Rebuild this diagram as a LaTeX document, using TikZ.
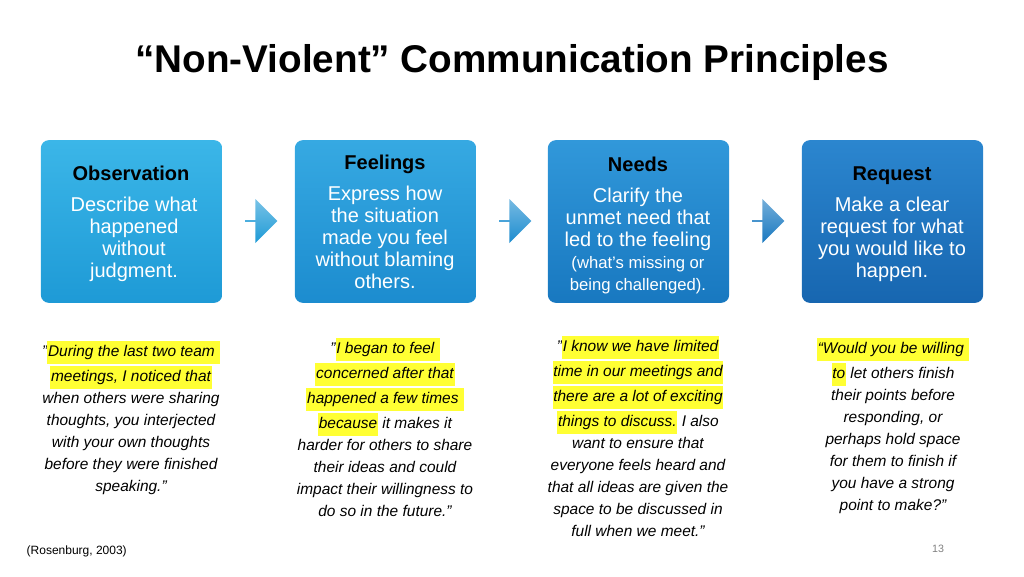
\documentclass[tikz,border=0pt]{standalone}
\usepackage{fontspec}
\setmainfont{Liberation Sans}
\usetikzlibrary{shapes.arrows}
\definecolor{hlyellow}{HTML}{FFFF33}
\definecolor{boxtopA}{HTML}{3BB6E8}
\definecolor{boxbotA}{HTML}{1E9AD6}
\definecolor{boxtopB}{HTML}{36A9E2}
\definecolor{boxbotB}{HTML}{1C8CCF}
\definecolor{boxtopC}{HTML}{3198DA}
\definecolor{boxbotC}{HTML}{1878C0}
\definecolor{boxtopD}{HTML}{2B86CF}
\definecolor{boxbotD}{HTML}{1766B0}
\newcommand{\hl}[1]{{\setlength{\fboxsep}{0.6pt}\colorbox{hlyellow}{\strut #1}}}
\tikzset{
  stepcard/.style={rounded corners=6pt, minimum width=136pt, minimum height=122pt, inner sep=0pt},
  cardhead/.style={font=\fontsize{15}{16.5}\selectfont\bfseries, text=black, anchor=base},
  cardbody/.style={font=\fontsize{15}{16.5}\selectfont, text=white, align=center, anchor=north},
  quotetext/.style={font=\fontsize{11.6}{16.5}\selectfont\itshape, align=center, anchor=north},
  flowarrow/.style={single arrow, single arrow head extend=5pt, minimum width=33pt, minimum height=24pt, inner sep=0pt,
    top color=#1!60!white, bottom color=#1, draw=none}
}
\begin{document}
\begin{tikzpicture}[x=0.75pt,y=-0.75pt]
\useasboundingbox (0,0) rectangle (1024,576);
\node [font=\fontsize{29}{34}\selectfont\bfseries, anchor=base] (title) at (512,72) {“Non-Violent” Communication Principles};

% cards
\node [stepcard, top color=boxtopA, bottom color=boxbotA] (obs) at (131.5,221.5) {};
\node [stepcard, top color=boxtopB, bottom color=boxbotB] (feel) at (385.5,221.5) {};
\node [stepcard, top color=boxtopC, bottom color=boxbotC] (need) at (638.5,221.5) {};
\node [stepcard, top color=boxtopD, bottom color=boxbotD] (req) at (892.5,221.5) {};

% arrows between cards
\node [flowarrow=boxbotA] (a1) at (261,221) {};
\node [flowarrow=boxbotB] (a2) at (515,221) {};
\node [flowarrow=boxbotC] (a3) at (768,221) {};

% card texts
\node [cardhead] (obs-h) at (131,180) {Observation};
\node [cardbody] (obs-b) at (134,192) {Describe what\\happened\\without\\judgment.};
\node [cardhead] (feel-h) at (385,169) {Feelings};
\node [cardbody] (feel-b) at (385,181) {Express how\\the situation\\made you feel\\without blaming\\others.};
\node [cardhead] (need-h) at (638,171) {Needs};
\node [cardbody] (need-b) at (638,183) {Clarify the\\unmet need that\\led to the feeling\\{\fontsize{12.5}{16.5}\selectfont (what’s missing or}\\{\fontsize{12.5}{16.5}\selectfont being challenged).}};
\node [cardhead] (req-h) at (892,180) {Request};
\node [cardbody] (req-b) at (892,192) {Make a clear\\request for what\\you would like to\\happen.};

% quotes
\node [quotetext] (obs-q) at (131,336) {"\hl{During the last two team }\\\hl{meetings, I noticed that}\\when others were sharing\\thoughts, you interjected\\with your own thoughts\\before they were finished\\speaking."};
\node [quotetext] (feel-q) at (385,333) {"\hl{I began to feel }\\\hl{concerned after that}\\\hl{happened a few times }\\\hl{because} it makes it\\harder for others to share\\their ideas and could\\impact their willingness to\\do so in the future."};
\node [quotetext] (need-q) at (638,331) {"\hl{I know we have limited}\\\hl{time in our meetings and}\\\hl{there are a lot of exciting}\\\hl{things to discuss.} I also\\want to ensure that\\everyone feels heard and\\that all ideas are given the\\space to be discussed in\\full when we meet."};
\node [quotetext] (req-q) at (893,333) {\hl{“Would you be willing }\\\hl{to} let others finish\\their points before\\responding, or\\perhaps hold space\\for them to finish if\\you have a strong\\point to make?"};

% footer
\node [font=\fontsize{9}{11}\selectfont, anchor=west] (cite) at (22,551) {(Rosenburg, 2003)};
\node [font=\fontsize{8}{10}\selectfont, text=gray] (page) at (938,549) {13};
\end{tikzpicture}
\end{document}
